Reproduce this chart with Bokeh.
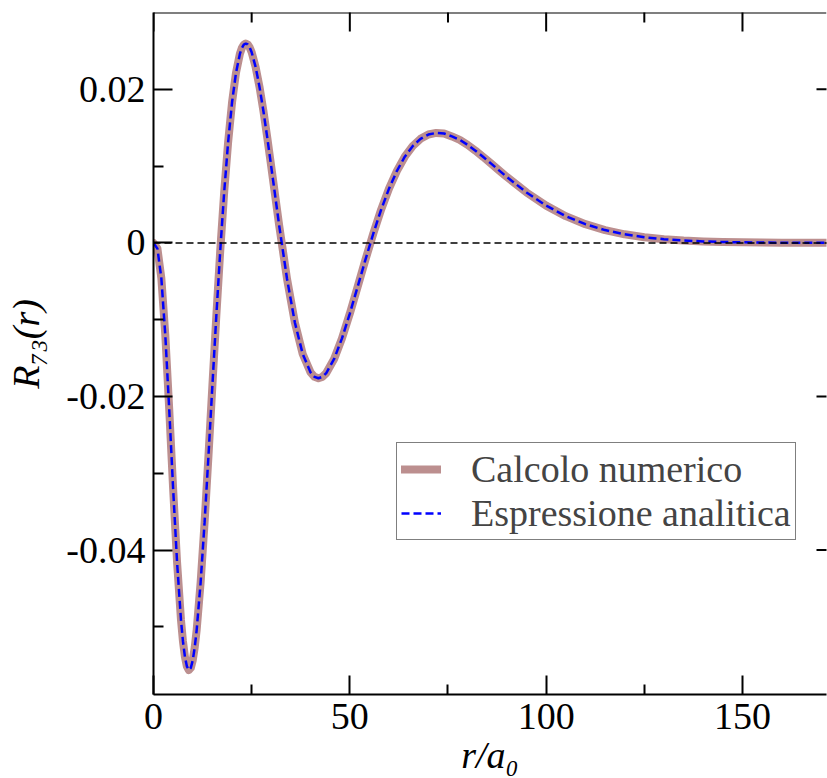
import math
from bokeh.plotting import figure
from bokeh.models import Range1d, FixedTicker, Span, Legend, LegendItem
from bokeh.embed import file_html
from bokeh.resources import INLINE

# ---- data ----
r_values = [0, 1, 2, 3, 4, 5, 6, 7, 7.5, 8, 8.5, 9, 9.5, 10, 10.5, 11, 12, 13, 14,
            15, 16, 17, 18, 19, 20, 21, 22, 22.5, 23, 23.5, 24, 24.5, 25, 26, 27,
            28, 29, 30, 32, 34, 36, 38, 40, 41, 42, 43, 44, 46, 48, 50, 52, 54, 56,
            58, 60, 62, 64, 66, 68, 70, 72, 74, 76, 78, 80, 82, 84, 86, 88, 90, 95,
            100, 105, 110, 115, 120, 125, 130, 135, 140, 145, 150, 155, 160, 165,
            170, 175]

calcolo_numerico = [0.0, -0.000745, -0.004609, -0.011953, -0.02163, -0.032013,
                    -0.041563, -0.049099, -0.051864, -0.053884, -0.055134, -0.055612,
                    -0.055335, -0.054336, -0.052663, -0.050374, -0.044221, -0.036463,
                    -0.027712, -0.018552, -0.009503, -0.001003, 0.006608, 0.013086,
                    0.018279, 0.022119, 0.024610, 0.025367, 0.025814, 0.025963,
                    0.025837, 0.025446, 0.024818, 0.022915, 0.020302, 0.017145,
                    0.013618, 0.009876, 0.002296, -0.004662, -0.010366, -0.014469,
                    -0.016859, -0.017435, -0.017620, -0.017452, -0.016945, -0.015113,
                    -0.012429, -0.009196, -0.005689, -0.002143, 0.001256, 0.004366,
                    0.007096, 0.009384, 0.011221, 0.012600, 0.013549, 0.014111,
                    0.014324, 0.014248, 0.013863, 0.013420, 0.012765, 0.012006,
                    0.011181, 0.010318, 0.009445, 0.008584, 0.006568, 0.004853,
                    0.003483, 0.002437, 0.001669, 0.001122, 0.000741, 0.000483,
                    0.000310, 0.000197, 0.000123, 0.0000766, 0.0000471, 0.0000287,
                    0.0000174, 0.0000104, 0.0000062]

espressione_analitica = list(calcolo_numerico)

series_labels = ["Calcolo numerico", "Espressione analitica"]

x_ticks = [0, 50, 100, 150]
x_minor = [25, 75, 125, 175]
y_ticks = [-0.04, -0.02, 0, 0.02]
y_minor = [-0.05, -0.03, -0.01, 0.01]
y_tick_labels = ["-0.04", "-0.02", "0", "0.02"]

x_title = "r/a\u2080"
y_title = "R\u2087\u2083(r)"

X_MIN, X_MAX = 0, 171.4
Y_MIN, Y_MAX = -0.0588, 0.0300

FONT = "Liberation Serif"
FS = "38px"

p = figure(width=827, height=778,
           x_range=Range1d(X_MIN, X_MAX), y_range=Range1d(Y_MIN, Y_MAX),
           output_backend="svg", toolbar_location=None,
           min_border_left=153, min_border_right=1,
           min_border_top=12, min_border_bottom=84)
p.outline_line_color = None
p.xgrid.visible = False
p.ygrid.visible = False
p.background_fill_color = "white"
p.border_fill_color = "white"


def style_axis(ax):
    ax.major_tick_in = 19
    ax.major_tick_out = 0
    ax.minor_tick_in = 10
    ax.minor_tick_out = 0
    ax.major_tick_line_width = 2
    ax.minor_tick_line_width = 2
    ax.major_tick_line_color = "black"
    ax.minor_tick_line_color = "black"
    ax.axis_line_width = 2
    ax.axis_line_color = "black"
    ax.major_label_text_font = FONT
    ax.major_label_text_font_size = FS
    ax.major_label_text_color = "black"
    ax.axis_label_text_font = FONT
    ax.axis_label_text_font_size = FS
    ax.axis_label_text_font_style = "italic"
    ax.axis_label_text_color = "black"


bx = p.xaxis[0]
bx.ticker = FixedTicker(ticks=x_ticks, minor_ticks=x_minor)
style_axis(bx)
bx.major_label_standoff = 9
bx.axis_label = x_title
bx.axis_label_standoff = 2

ly = p.yaxis[0]
ly.ticker = FixedTicker(ticks=y_ticks, minor_ticks=y_minor)
style_axis(ly)
ly.major_label_standoff = 8
ly.major_label_overrides = {t: s for t, s in zip(y_ticks, y_tick_labels)}
ly.axis_label = "\u00a0" * 2 + y_title
ly.axis_label_standoff = 16

# top frame line and inward ticks on the top and right edges
p.add_layout(Span(location=Y_MAX, dimension="width", line_color="black",
                  line_width=2))
p.scatter(x_ticks, [Y_MAX] * len(x_ticks), marker="dash", angle=math.pi / 2,
          size=38, line_color="black", line_width=2)
p.scatter(x_minor, [Y_MAX] * len(x_minor), marker="dash", angle=math.pi / 2,
          size=20, line_color="black", line_width=2)
p.scatter([X_MAX] * len(y_ticks), y_ticks, marker="dash",
          size=20, line_color="black", line_width=2)

l1 = p.line(r_values, calcolo_numerico, line_color="#BC8F8F", line_width=8,
            line_join="round", line_cap="round")
l2 = p.line(r_values, espressione_analitica, line_color="#0000FF", line_width=2.5,
            line_dash="8 4")

p.add_layout(Span(location=0, dimension="width", line_color="black",
                  line_width=1.5, line_dash="7 4"))

legend = Legend(items=[LegendItem(label=series_labels[0], renderers=[l1]),
                       LegendItem(label=series_labels[1], renderers=[l2])],
                location=(243, 154),
                label_text_font=FONT, label_text_font_size=FS,
                glyph_width=40, glyph_height=20, label_height=20,
                label_standoff=30,
                padding=4, spacing=0, margin=0,
                border_line_color="black", border_line_width=1,
                background_fill_color="white", background_fill_alpha=1.0)
p.add_layout(legend)

open("out.html", "w").write(file_html(p, INLINE))
